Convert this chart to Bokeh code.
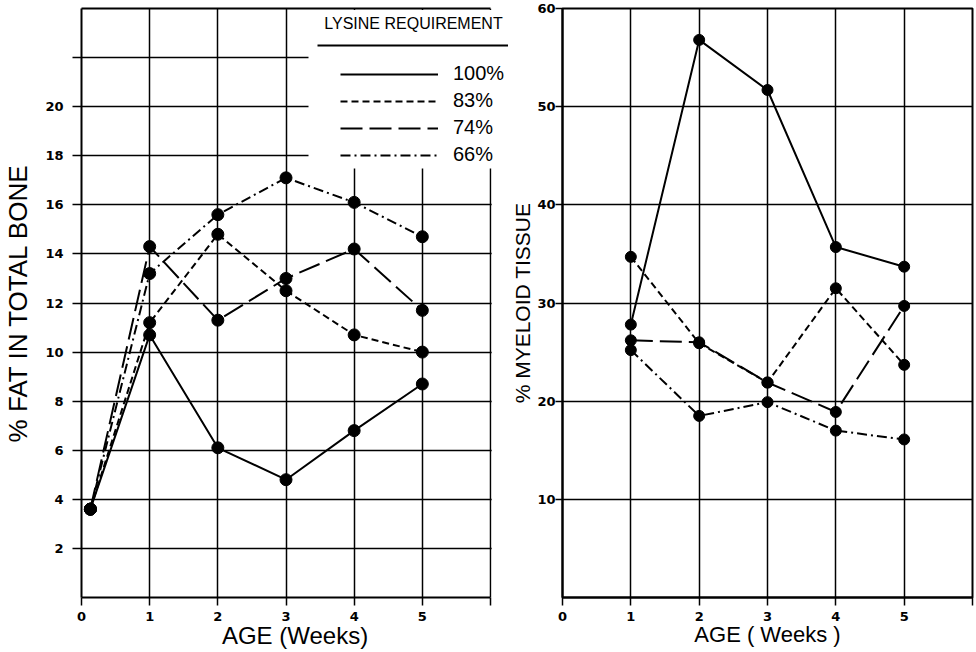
from bokeh.plotting import figure
from bokeh.layouts import row
from bokeh.models import (FixedTicker, LinearAxis, Range1d, Legend, LegendItem,
                          Label, BoxAnnotation)
from bokeh.embed import file_html
from bokeh.resources import INLINE

# ---- data -------------------------------------------------------------
levels = ["100%", "83%", "74%", "66%"]

weeks_fat = [0.13, 1, 2, 3, 4, 5]
fat_100 = [3.6, 10.7, 6.1, 4.8, 6.8, 8.7]
fat_83 = [3.6, 11.2, 14.8, 12.5, 10.7, 10.0]
fat_74 = [3.6, 14.3, 11.3, 13.0, 14.2, 11.7]
fat_66 = [3.6, 13.2, 15.6, 17.1, 16.1, 14.7]

weeks_mye = [1, 2, 3, 4, 5]
mye_100 = [27.8, 56.8, 51.7, 35.7, 33.7]
mye_83 = [34.7, 25.9, 21.9, 31.5, 23.7]
mye_74 = [26.2, 26.0, 21.9, 18.9, 29.7]
mye_66 = [25.2, 18.5, 19.9, 17.0, 16.1]

week_ticks = [0, 1, 2, 3, 4, 5, 6]
week_labels = {6: ""}
fat_ticks = [2, 4, 6, 8, 10, 12, 14, 16, 18, 20, 22]
fat_labels = {22: ""}
mye_ticks = [10, 20, 30, 40, 50, 60]

# ---- styling ------------------------------------------------------------
DASHES = ["solid", "7 4", "22 7", "10 4 2 4"]
INK = "black"
W1 = 508
H = 652
# the left frame runs on past week 6 so the key block can overhang the border
X_END = 6 * (W1 - 81) / (490 - 81)


def style_axis(ax, ticks, overrides, tick_out, label_standoff, title,
               title_size, title_standoff):
    ax.ticker = FixedTicker(ticks=ticks)
    ax.major_label_overrides = overrides
    ax.minor_tick_line_color = None
    ax.major_tick_in = 0
    ax.major_tick_out = tick_out
    ax.major_tick_line_width = 1.5
    ax.major_tick_line_color = INK
    ax.axis_line_width = 2
    ax.axis_line_color = INK
    ax.major_label_text_font = "DejaVu Sans"
    ax.major_label_text_font_style = "bold"
    ax.major_label_text_font_size = "13px"
    ax.major_label_text_color = INK
    ax.major_label_standoff = label_standoff
    ax.axis_label = title
    ax.axis_label_text_font = "Liberation Sans"
    ax.axis_label_text_font_style = "normal"
    ax.axis_label_text_font_size = title_size
    ax.axis_label_standoff = title_standoff
    ax.axis_label_text_color = INK


def style_grid(p, xticks, yticks):
    p.xgrid.ticker = FixedTicker(ticks=xticks)
    p.ygrid.ticker = FixedTicker(ticks=yticks)
    for g in (p.xgrid, p.ygrid):
        g.grid_line_color = INK
        g.grid_line_width = 1.5
        g.grid_line_alpha = 1.0


def screen_box(l, r, t, b, color):
    return BoxAnnotation(left=l, right=r, top=t, bottom=b,
                         left_units="screen", right_units="screen",
                         top_units="screen", bottom_units="screen",
                         fill_color=color, fill_alpha=1.0, line_color=None)


# ---- left panel: fat in total bone -------------------------------------
left = figure(width=W1, height=H, x_range=Range1d(0, X_END), y_range=Range1d(0, 24),
              output_backend="svg", toolbar_location=None,
              min_border_left=81, min_border_right=0,
              min_border_top=8, min_border_bottom=55,
              outline_line_color=None, background_fill_color="white",
              border_fill_color="white")
style_axis(left.xaxis[0], week_ticks, week_labels, 8, 6, "AGE (Weeks)", "24px", -2)
left.xaxis[0].bounds = (0, 6)
style_axis(left.yaxis[0], fat_ticks, fat_labels, 9, 9, "% FAT IN TOTAL BONE", "26px", 9)
style_grid(left, [1, 2, 3, 4, 5, 6], fat_ticks)

# frame top line
top_line = LinearAxis(ticker=FixedTicker(ticks=[]), axis_line_width=2, axis_line_color=INK,
                      major_tick_line_color=None, minor_tick_line_color=None,
                      bounds=(0, 6))
left.add_layout(top_line, "above")

fat_lines = []
for vals, dash in zip([fat_100, fat_83, fat_74, fat_66], DASHES):
    r = left.line(weeks_fat, vals, line_width=2, line_dash=dash, color=INK)
    fat_lines.append(r)
    left.scatter(weeks_fat, vals, marker="circle", size=12, color=INK)

# blank strip beyond week 6 so the grid stops at the panel border
left.add_layout(BoxAnnotation(left=6 + 1.2 / 68.17, right=X_END + 1, bottom=0, top=24,
                              fill_color="white", fill_alpha=1.0, line_color=None))

# key block: white backing, title with rule, keyed line styles
left.add_layout(screen_box(227, W1 - 81 + 5, 587.5, 429, "white"))
left.add_layout(screen_box(236, W1 - 81, 553, 551, INK))
left.add_layout(Label(x=332, y=574, x_units="screen", y_units="screen",
                      text="LYSINE REQUIREMENT", text_align="center",
                      text_baseline="middle", text_font="Liberation Sans",
                      text_font_size="16px", text_color=INK))
legend = Legend(items=[LegendItem(label=lab, renderers=[r])
                       for lab, r in zip(levels, fat_lines)],
                location=(259, 431), orientation="vertical",
                glyph_width=98, glyph_height=20, label_height=20,
                label_standoff=15, spacing=4, padding=0, margin=0,
                label_text_font="Liberation Sans", label_text_font_size="20px",
                label_text_color=INK, background_fill_alpha=0.0,
                border_line_color=None)
left.add_layout(legend, "center")

# ---- right panel: myeloid tissue ----------------------------------------
rightp = figure(width=976 - W1, height=H, x_range=Range1d(0, 6), y_range=Range1d(0, 60),
                output_backend="svg", toolbar_location=None,
                min_border_left=562 - W1, min_border_right=4,
                min_border_top=8, min_border_bottom=55,
                outline_line_color=INK, outline_line_width=2, outline_line_alpha=1.0,
                background_fill_color="white", border_fill_color="white")
style_axis(rightp.xaxis[0], week_ticks, week_labels, 8, 6, "AGE ( Weeks )", "22px", -2)
style_axis(rightp.yaxis[0], mye_ticks, {}, 7, 0, "% MYELOID TISSUE", "21px", 0)
style_grid(rightp, [1, 2, 3, 4, 5], [10, 20, 30, 40, 50])

for vals, dash in zip([mye_100, mye_83, mye_74, mye_66], DASHES):
    rightp.line(weeks_mye, vals, line_width=2, line_dash=dash, color=INK)
    rightp.scatter(weeks_mye, vals, marker="circle", size=11, color=INK)

layout = row(left, rightp)
open("out.html", "w").write(file_html(layout, INLINE))
